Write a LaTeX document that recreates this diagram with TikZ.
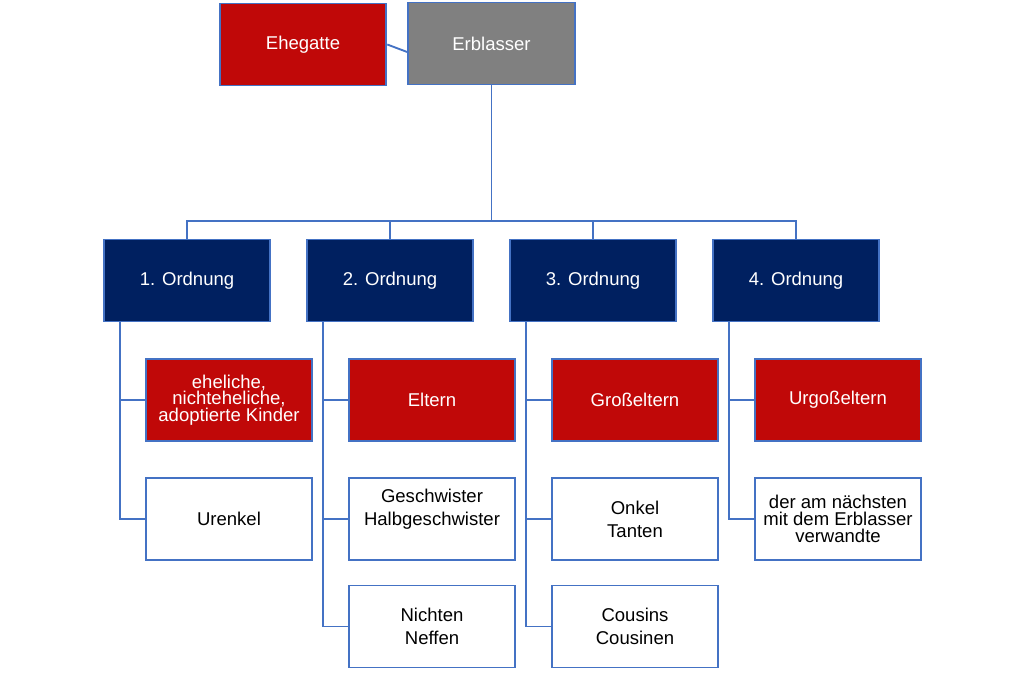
\documentclass[tikz,border=0pt]{standalone}
\usepackage{fontspec}
\setmainfont{Liberation Sans}
\definecolor{linie}{RGB}{68,114,196}
\definecolor{rot}{RGB}{192,8,8}
\definecolor{marine}{RGB}{0,32,96}
\definecolor{grau}{RGB}{128,128,128}

\begin{document}
\begin{tikzpicture}[x=0.75pt,y=-0.75pt,
        box/.style={draw=linie, line width=1.4pt, minimum width=125pt, minimum height=61.5pt,
            align=center, font=\fontsize{13.9}{17.2}\selectfont},
        tight/.style={font=\fontsize{13.9}{12.5}\selectfont},
        redbox/.style={box, fill=rot, text=white},
        ordbox/.style={box, fill=marine, text=white},
        whitebox/.style={box, fill=white, text=black},
        link/.style={draw=linie, line width=1.4pt}]
        \useasboundingbox (0,0) rectangle (1024,680);

        % Top row
        \node[box, fill=rot, text=white] (ehe) at (303,44.5) {Ehegatte};
        \node[box, fill=grau, text=white] (erb) at (491.5,43.5) {Erblasser};

        % Ordnungen
        \node[ordbox] (o1) at (187,280.5) {1. Ordnung};
        \node[ordbox] (o2) at (390,280.5) {2. Ordnung};
        \node[ordbox] (o3) at (593,280.5) {3. Ordnung};
        \node[ordbox] (o4) at (796,280.5) {4. Ordnung};

        % Red boxes
        \node[redbox, tight] (r1) at (229,400) {eheliche,\\nichteheliche,\\adoptierte Kinder};
        \node[redbox] (r2) at (432,400) {Eltern};
        \node[redbox] (r3) at (635,400) {Großeltern};
        \node[redbox] (r4) at (838,400) {Urgoßeltern};

        % White boxes
        \node[whitebox] (w1) at (229,519) {Urenkel};
        \node[whitebox] (w2) at (432,519) {Geschwister\\Halbgeschwister\\\mbox{}};
        \node[whitebox] (w3) at (635,519) {Onkel\\Tanten};
        \node[whitebox, tight] (w4) at (838,519) {der am nächsten\\mit dem Erblasser\\verwandte};
        \node[whitebox] (v2) at (432,626.5) {Nichten\\Neffen};
        \node[whitebox] (v3) at (635,626.5) {Cousins\\Cousinen};

        % Connectors
        \coordinate (bar) at (491.5,221);
        \draw[link] (ehe.east) -- ([yshift=-6.4pt]erb.west);
        \foreach \i in {1,...,4}
            \draw[link] (erb.south) -- (bar) -| (o\i.north);
        \draw[link] ([xshift=12.75pt]o1.south west) |- (r1.west);
        \draw[link] ([xshift=12.75pt]o1.south west) |- (w1.west);
        \draw[link] ([xshift=12.75pt]o2.south west) |- (r2.west);
        \draw[link] ([xshift=12.75pt]o2.south west) |- (w2.west);
        \draw[link] ([xshift=12.75pt]o2.south west) |- (v2.west);
        \draw[link] ([xshift=12.75pt]o3.south west) |- (r3.west);
        \draw[link] ([xshift=12.75pt]o3.south west) |- (w3.west);
        \draw[link] ([xshift=12.75pt]o3.south west) |- (v3.west);
        \draw[link] ([xshift=12.75pt]o4.south west) |- (r4.west);
        \draw[link] ([xshift=12.75pt]o4.south west) |- (w4.west);

    \end{tikzpicture}
\end{document}
